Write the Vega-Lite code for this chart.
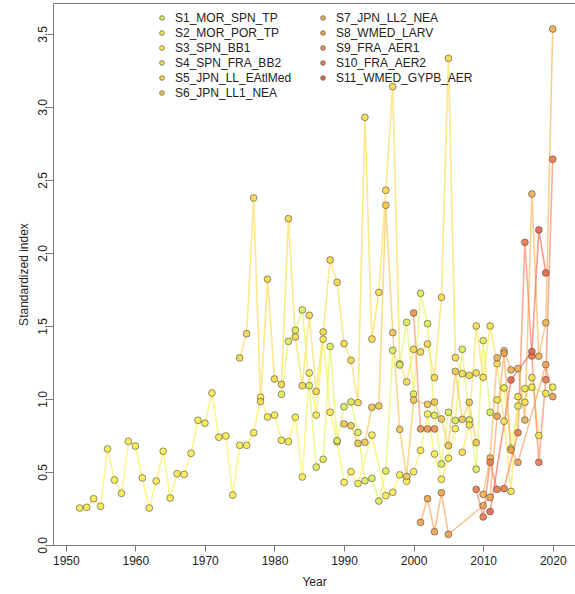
{
  "$schema": "https://vega.github.io/schema/vega-lite/v6.json",
  "width": 522,
  "height": 542,
  "autosize": {"type": "none"},
  "padding": {"left": 53, "top": 3, "right": 0, "bottom": 49},
  "background": "white",
  "config": {
    "view": {"stroke": "#7a7a7a", "strokeWidth": 1},
    "font": "Liberation Sans",
    "axis": {"grid": false, "domainColor": "#7a7a7a", "tickColor": "#7a7a7a", "labelColor": "#222", "titleColor": "#222", "labelFontSize": 12, "titleFontSize": 12, "titleFontWeight": "normal", "labelFont": "Liberation Sans", "titleFont": "Liberation Sans", "tickSize": 6}
  },
  "datasets": {
    "idx": [
      {"s":"S3_SPN_BB1","year":1952,"v":0.253},{"s":"S3_SPN_BB1","year":1953,"v":0.258},{"s":"S3_SPN_BB1","year":1954,"v":0.317},{"s":"S3_SPN_BB1","year":1955,"v":0.265},{"s":"S3_SPN_BB1","year":1956,"v":0.658},{"s":"S3_SPN_BB1","year":1957,"v":0.445},{"s":"S3_SPN_BB1","year":1958,"v":0.354},{"s":"S3_SPN_BB1","year":1959,"v":0.71},{"s":"S3_SPN_BB1","year":1960,"v":0.678},{"s":"S3_SPN_BB1","year":1961,"v":0.459},{"s":"S3_SPN_BB1","year":1962,"v":0.253},{"s":"S3_SPN_BB1","year":1963,"v":0.438},{"s":"S3_SPN_BB1","year":1964,"v":0.642},{"s":"S3_SPN_BB1","year":1965,"v":0.322},{"s":"S3_SPN_BB1","year":1966,"v":0.488},{"s":"S3_SPN_BB1","year":1967,"v":0.484},{"s":"S3_SPN_BB1","year":1968,"v":0.628},{"s":"S3_SPN_BB1","year":1969,"v":0.854},{"s":"S3_SPN_BB1","year":1970,"v":0.834},{"s":"S3_SPN_BB1","year":1971,"v":1.041},{"s":"S3_SPN_BB1","year":1972,"v":0.738},{"s":"S3_SPN_BB1","year":1973,"v":0.747},{"s":"S3_SPN_BB1","year":1974,"v":0.342},{"s":"S3_SPN_BB1","year":1975,"v":0.683},{"s":"S3_SPN_BB1","year":1976,"v":0.683},{"s":"S3_SPN_BB1","year":1977,"v":0.769},{"s":"S3_SPN_BB1","year":1978,"v":1.012},{"s":"S3_SPN_BB1","year":1979,"v":0.877},{"s":"S3_SPN_BB1","year":1980,"v":0.89},{"s":"S3_SPN_BB1","year":1981,"v":0.717},{"s":"S3_SPN_BB1","year":1982,"v":0.708},{"s":"S3_SPN_BB1","year":1983,"v":0.875},{"s":"S3_SPN_BB1","year":1984,"v":0.466},{"s":"S3_SPN_BB1","year":1985,"v":1.178},{"s":"S3_SPN_BB1","year":1986,"v":0.89},{"s":"S3_SPN_BB1","year":1987,"v":1.409},{"s":"S3_SPN_BB1","year":1988,"v":0.909},{"s":"S3_SPN_BB1","year":1989,"v":0.707},{"s":"S3_SPN_BB1","year":1990,"v":0.429},{"s":"S3_SPN_BB1","year":1991,"v":0.502},{"s":"S3_SPN_BB1","year":1992,"v":0.421},{"s":"S3_SPN_BB1","year":1994,"v":0.753},{"s":"S3_SPN_BB1","year":1996,"v":0.338},{"s":"S3_SPN_BB1","year":1997,"v":0.361},{"s":"S3_SPN_BB1","year":1998,"v":0.48},{"s":"S3_SPN_BB1","year":1999,"v":0.437},{"s":"S3_SPN_BB1","year":2000,"v":0.502},{"s":"S3_SPN_BB1","year":2001,"v":0.648},{"s":"S3_SPN_BB1","year":2002,"v":0.897},{"s":"S3_SPN_BB1","year":2003,"v":0.623},{"s":"S3_SPN_BB1","year":2004,"v":0.45},{"s":"S3_SPN_BB1","year":2005,"v":0.594},{"s":"S3_SPN_BB1","year":2006,"v":0.797},

      {"s":"S5_JPN_LL_EAtlMed","year":1975,"v":1.281},{"s":"S5_JPN_LL_EAtlMed","year":1976,"v":1.447},{"s":"S5_JPN_LL_EAtlMed","year":1977,"v":2.377},{"s":"S5_JPN_LL_EAtlMed","year":1978,"v":0.982},{"s":"S5_JPN_LL_EAtlMed","year":1979,"v":1.82},{"s":"S5_JPN_LL_EAtlMed","year":1980,"v":1.137},{"s":"S5_JPN_LL_EAtlMed","year":1981,"v":1.1},{"s":"S5_JPN_LL_EAtlMed","year":1982,"v":2.235},{"s":"S5_JPN_LL_EAtlMed","year":1983,"v":1.425},{"s":"S5_JPN_LL_EAtlMed","year":1984,"v":1.091},{"s":"S5_JPN_LL_EAtlMed","year":1985,"v":1.573},{"s":"S5_JPN_LL_EAtlMed","year":1986,"v":1.052},{"s":"S5_JPN_LL_EAtlMed","year":1987,"v":1.459},{"s":"S5_JPN_LL_EAtlMed","year":1988,"v":1.952},{"s":"S5_JPN_LL_EAtlMed","year":1989,"v":1.799},{"s":"S5_JPN_LL_EAtlMed","year":1990,"v":1.379},{"s":"S5_JPN_LL_EAtlMed","year":1991,"v":1.265},{"s":"S5_JPN_LL_EAtlMed","year":1992,"v":0.975},{"s":"S5_JPN_LL_EAtlMed","year":1993,"v":2.929},{"s":"S5_JPN_LL_EAtlMed","year":1994,"v":1.411},{"s":"S5_JPN_LL_EAtlMed","year":1995,"v":1.73},{"s":"S5_JPN_LL_EAtlMed","year":1996,"v":2.429},{"s":"S5_JPN_LL_EAtlMed","year":1997,"v":3.139},{"s":"S5_JPN_LL_EAtlMed","year":1998,"v":1.24},{"s":"S5_JPN_LL_EAtlMed","year":1999,"v":1.117},{"s":"S5_JPN_LL_EAtlMed","year":2000,"v":1.34},{"s":"S5_JPN_LL_EAtlMed","year":2001,"v":1.322},{"s":"S5_JPN_LL_EAtlMed","year":2002,"v":1.377},{"s":"S5_JPN_LL_EAtlMed","year":2003,"v":1.146},{"s":"S5_JPN_LL_EAtlMed","year":2004,"v":1.696},{"s":"S5_JPN_LL_EAtlMed","year":2005,"v":3.333},{"s":"S5_JPN_LL_EAtlMed","year":2006,"v":1.283},{"s":"S5_JPN_LL_EAtlMed","year":2007,"v":1.173},{"s":"S5_JPN_LL_EAtlMed","year":2008,"v":1.162},{"s":"S5_JPN_LL_EAtlMed","year":2009,"v":1.178},

      {"s":"S1_MOR_SPN_TP","year":1981,"v":1.032},{"s":"S1_MOR_SPN_TP","year":1982,"v":1.395},{"s":"S1_MOR_SPN_TP","year":1983,"v":1.471},{"s":"S1_MOR_SPN_TP","year":1984,"v":1.61},{"s":"S1_MOR_SPN_TP","year":1985,"v":1.091},{"s":"S1_MOR_SPN_TP","year":1986,"v":0.534},{"s":"S1_MOR_SPN_TP","year":1987,"v":0.587},{"s":"S1_MOR_SPN_TP","year":1988,"v":1.36},{"s":"S1_MOR_SPN_TP","year":1989,"v":0.714},{"s":"S1_MOR_SPN_TP","year":1990,"v":0.947},{"s":"S1_MOR_SPN_TP","year":1991,"v":0.98},{"s":"S1_MOR_SPN_TP","year":1992,"v":0.771},{"s":"S1_MOR_SPN_TP","year":1993,"v":0.44},{"s":"S1_MOR_SPN_TP","year":1994,"v":0.457},{"s":"S1_MOR_SPN_TP","year":1995,"v":0.301},{"s":"S1_MOR_SPN_TP","year":1996,"v":0.507},{"s":"S1_MOR_SPN_TP","year":1997,"v":1.333},{"s":"S1_MOR_SPN_TP","year":1998,"v":1.233},{"s":"S1_MOR_SPN_TP","year":1999,"v":1.525},{"s":"S1_MOR_SPN_TP","year":2000,"v":1.034},{"s":"S1_MOR_SPN_TP","year":2001,"v":1.724},{"s":"S1_MOR_SPN_TP","year":2002,"v":1.516},{"s":"S1_MOR_SPN_TP","year":2003,"v":0.888},{"s":"S1_MOR_SPN_TP","year":2004,"v":0.555},{"s":"S1_MOR_SPN_TP","year":2005,"v":0.909},{"s":"S1_MOR_SPN_TP","year":2006,"v":0.853},{"s":"S1_MOR_SPN_TP","year":2007,"v":1.34},{"s":"S1_MOR_SPN_TP","year":2008,"v":0.856},{"s":"S1_MOR_SPN_TP","year":2009,"v":0.519},{"s":"S1_MOR_SPN_TP","year":2010,"v":1.4},{"s":"S1_MOR_SPN_TP","year":2011,"v":0.909},

      {"s":"S6_JPN_LL1_NEA","year":1990,"v":0.829},{"s":"S6_JPN_LL1_NEA","year":1991,"v":0.817},{"s":"S6_JPN_LL1_NEA","year":1992,"v":0.696},{"s":"S6_JPN_LL1_NEA","year":1993,"v":0.703},{"s":"S6_JPN_LL1_NEA","year":1994,"v":0.943},{"s":"S6_JPN_LL1_NEA","year":1995,"v":0.952},{"s":"S6_JPN_LL1_NEA","year":1996,"v":2.327},{"s":"S6_JPN_LL1_NEA","year":1997,"v":1.454},{"s":"S6_JPN_LL1_NEA","year":1998,"v":0.792},{"s":"S6_JPN_LL1_NEA","year":1999,"v":0.47},{"s":"S6_JPN_LL1_NEA","year":2000,"v":0.993},{"s":"S6_JPN_LL1_NEA","year":2002,"v":0.963},{"s":"S6_JPN_LL1_NEA","year":2003,"v":0.979},{"s":"S6_JPN_LL1_NEA","year":2004,"v":0.863},{"s":"S6_JPN_LL1_NEA","year":2005,"v":0.681},{"s":"S6_JPN_LL1_NEA","year":2006,"v":1.189},{"s":"S6_JPN_LL1_NEA","year":2007,"v":0.86},{"s":"S6_JPN_LL1_NEA","year":2008,"v":0.977},{"s":"S6_JPN_LL1_NEA","year":2009,"v":0.701},

      {"s":"S4_SPN_FRA_BB2","year":2007,"v":0.635},{"s":"S4_SPN_FRA_BB2","year":2008,"v":0.822},{"s":"S4_SPN_FRA_BB2","year":2009,"v":1.5},{"s":"S4_SPN_FRA_BB2","year":2010,"v":1.148},{"s":"S4_SPN_FRA_BB2","year":2011,"v":1.5},{"s":"S4_SPN_FRA_BB2","year":2012,"v":1.242},{"s":"S4_SPN_FRA_BB2","year":2013,"v":0.847},{"s":"S4_SPN_FRA_BB2","year":2014,"v":0.367},{"s":"S4_SPN_FRA_BB2","year":2015,"v":1.016},{"s":"S4_SPN_FRA_BB2","year":2016,"v":0.977},{"s":"S4_SPN_FRA_BB2","year":2017,"v":1.147},{"s":"S4_SPN_FRA_BB2","year":2018,"v":0.75},

      {"s":"S2_MOR_POR_TP","year":2012,"v":0.994},{"s":"S2_MOR_POR_TP","year":2013,"v":1.076},{"s":"S2_MOR_POR_TP","year":2014,"v":0.662},{"s":"S2_MOR_POR_TP","year":2015,"v":0.952},{"s":"S2_MOR_POR_TP","year":2016,"v":1.071},{"s":"S2_MOR_POR_TP","year":2017,"v":1.081},{"s":"S2_MOR_POR_TP","year":2019,"v":1.038},{"s":"S2_MOR_POR_TP","year":2020,"v":1.081},

      {"s":"S7_JPN_LL2_NEA","year":2010,"v":0.347},{"s":"S7_JPN_LL2_NEA","year":2011,"v":0.596},{"s":"S7_JPN_LL2_NEA","year":2012,"v":1.282},{"s":"S7_JPN_LL2_NEA","year":2013,"v":1.33},{"s":"S7_JPN_LL2_NEA","year":2014,"v":1.199},{"s":"S7_JPN_LL2_NEA","year":2015,"v":1.208},{"s":"S7_JPN_LL2_NEA","year":2016,"v":0.856},{"s":"S7_JPN_LL2_NEA","year":2017,"v":2.404},{"s":"S7_JPN_LL2_NEA","year":2018,"v":1.293},{"s":"S7_JPN_LL2_NEA","year":2019,"v":1.522},{"s":"S7_JPN_LL2_NEA","year":2020,"v":3.534},

      {"s":"S8_WMED_LARV","year":2001,"v":0.155},{"s":"S8_WMED_LARV","year":2002,"v":0.317},{"s":"S8_WMED_LARV","year":2003,"v":0.091},{"s":"S8_WMED_LARV","year":2004,"v":0.358},{"s":"S8_WMED_LARV","year":2005,"v":0.073},{"s":"S8_WMED_LARV","year":2010,"v":0.27},{"s":"S8_WMED_LARV","year":2011,"v":0.327},{"s":"S8_WMED_LARV","year":2012,"v":0.882},{"s":"S8_WMED_LARV","year":2013,"v":1.313},{"s":"S8_WMED_LARV","year":2014,"v":0.65},{"s":"S8_WMED_LARV","year":2015,"v":0.566},{"s":"S8_WMED_LARV","year":2019,"v":1.235},{"s":"S8_WMED_LARV","year":2020,"v":1.016},

      {"s":"S9_FRA_AER1","year":2000,"v":1.589},{"s":"S9_FRA_AER1","year":2001,"v":0.795},{"s":"S9_FRA_AER1","year":2002,"v":0.795},{"s":"S9_FRA_AER1","year":2003,"v":0.795},

      {"s":"S10_FRA_AER2","year":2009,"v":0.381},{"s":"S10_FRA_AER2","year":2010,"v":0.192},{"s":"S10_FRA_AER2","year":2011,"v":0.566},{"s":"S10_FRA_AER2","year":2012,"v":0.381},{"s":"S10_FRA_AER2","year":2013,"v":0.386},{"s":"S10_FRA_AER2","year":2015,"v":0.769},{"s":"S10_FRA_AER2","year":2016,"v":2.073},{"s":"S10_FRA_AER2","year":2017,"v":1.295},{"s":"S10_FRA_AER2","year":2018,"v":0.566},{"s":"S10_FRA_AER2","year":2019,"v":1.132},{"s":"S10_FRA_AER2","year":2020,"v":2.642},

      {"s":"S11_WMED_GYPB_AER","year":2011,"v":0.229},{"s":"S11_WMED_GYPB_AER","year":2014,"v":1.13},{"s":"S11_WMED_GYPB_AER","year":2017,"v":1.325},{"s":"S11_WMED_GYPB_AER","year":2018,"v":2.158},{"s":"S11_WMED_GYPB_AER","year":2019,"v":1.863}
    ]
  },
  "data": {"name": "idx"},
  "encoding": {
    "x": {"field": "year", "type": "quantitative", "scale": {"domain": [1948.16, 2023.2], "nice": false, "zero": false},
      "axis": {"title": "Year", "values": [1950,1960,1970,1980,1990,2000,2010,2020], "format": "d", "labelPadding": 4, "titlePadding": 10, "labelFlush": false}},
    "y": {"field": "v", "type": "quantitative", "scale": {"domain": [0, 3.712], "nice": false},
      "axis": {"title": "Standardized index", "values": [0,0.5,1,1.5,2,2.5,3,3.5], "format": ".1f", "labelAngle": 270, "labelAlign": "center", "labelBaseline": "middle", "labelPadding": 5, "titlePadding": 6, "labelFlush": false}}
  },
  "layer": [
    {
      "mark": {"type": "line", "strokeWidth": 1.6, "strokeOpacity": 0.65, "interpolate": "linear"},
      "encoding": {
        "stroke": {"field": "s", "type": "nominal", "legend": null,
          "scale": {"domain": ["S11_WMED_GYPB_AER","S10_FRA_AER2","S9_FRA_AER1","S8_WMED_LARV","S7_JPN_LL2_NEA","S6_JPN_LL1_NEA","S5_JPN_LL_EAtlMed","S4_SPN_FRA_BB2","S3_SPN_BB1","S2_MOR_POR_TP","S1_MOR_SPN_TP"],
                    "range": ["#f2664e","#f7805a","#f89458","#f8a458","#f8b458","#f8c450","#fcdc4e","#fde44c","#fff04c","#f4f04a","#e4f55a"]}},
        "order": {"field": "year", "type": "quantitative"}
      }
    },
    {
      "mark": {"type": "point", "filled": true, "shape": "circle", "size": 46, "stroke": "#4a4a4a", "strokeWidth": 0.8, "fillOpacity": 0.9, "strokeOpacity": 0.75},
      "encoding": {
        "fill": {"field": "s", "type": "nominal",
          "scale": {"domain": ["S1_MOR_SPN_TP","S2_MOR_POR_TP","S3_SPN_BB1","S4_SPN_FRA_BB2","S5_JPN_LL_EAtlMed","S6_JPN_LL1_NEA","S7_JPN_LL2_NEA","S8_WMED_LARV","S9_FRA_AER1","S10_FRA_AER2","S11_WMED_GYPB_AER"],
                    "range": ["#dcec52","#eee845","#fbeb4e","#f8df4c","#f6d84a","#eec64c","#efb050","#efa04c","#ef904c","#ec7a4a","#e66248"]},
          "legend": {"title": null, "orient": "none", "legendX": 103, "legendY": 9, "columns": 2, "columnPadding": 25, "rowPadding": 3, "padding": 0,
            "symbolType": "circle", "symbolSize": 22, "symbolStrokeColor": "#555", "symbolStrokeWidth": 0.7,
            "labelFontSize": 12, "labelFont": "Liberation Sans", "labelColor": "#222", "labelOffset": 7, "labelLimit": 300}}
      }
    }
  ]
}
